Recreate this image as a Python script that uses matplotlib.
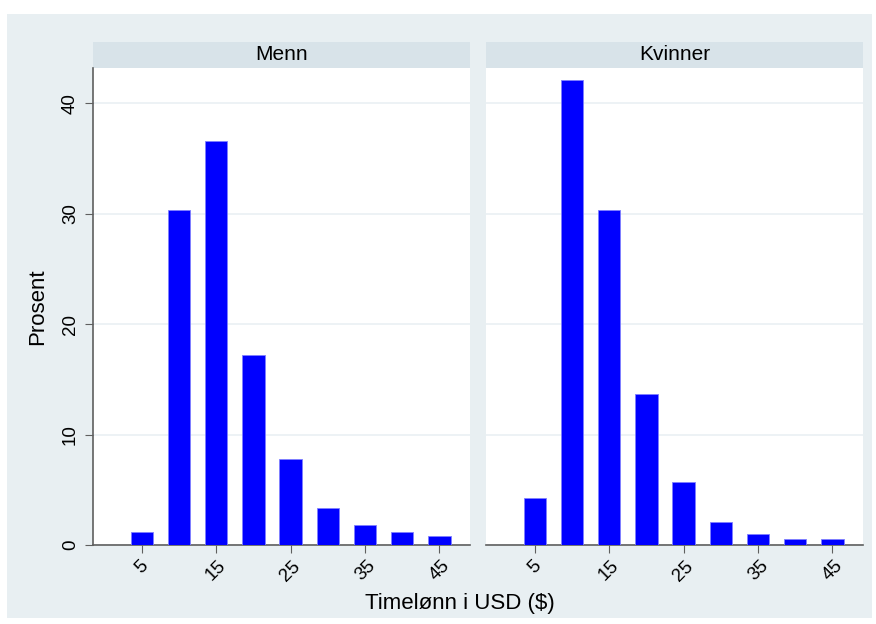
import matplotlib
matplotlib.use("Agg")
import matplotlib.pyplot as plt
from matplotlib.patches import Rectangle

plt.rcParams["font.family"] = ["Liberation Sans", "DejaVu Sans"]

# hourly wage bins (centres) and percent per group
wage_bins = [5, 10, 15, 20, 25, 30, 35, 40, 45]
menn = [1.2, 30.3, 36.6, 17.2, 7.8, 3.35, 1.8, 1.15, 0.85]
kvinner = [4.3, 42.1, 30.3, 13.7, 5.7, 2.1, 1.0, 0.55, 0.55]
panel_titles = ["Menn", "Kvinner"]
x_ticks = [5, 15, 25, 35, 45]
y_ticks = [0, 10, 20, 30, 40]

W, H = 876, 624
bg = "#e8eff2"
strip = "#d8e3e9"
grid_c = "#eaf0f3"
axis_c = "#5f5f5f"

fig = plt.figure(figsize=(W / 100, H / 100), dpi=100)
fig.patch.set_facecolor("white")
fig.patches.append(Rectangle((7 / W, 1 - 618 / H), 865 / W, 604 / H,
                             transform=fig.transFigure, facecolor=bg,
                             edgecolor="none", zorder=-10))

panels = [(93, menn, panel_titles[0], True), (486, kvinner, panel_titles[1], False)]
for x0, vals, title, first in panels:
    ax = fig.add_axes([x0 / W, 1 - 545 / H, 377 / W, (545 - 68) / H])
    ax.set_facecolor("white")
    ax.bar(wage_bins, vals, width=3.0, color="#0000ff", edgecolor="#7f7fff",
           linewidth=0.6, zorder=3)
    ax.set_xlim(-1.55, 49.1)
    ax.set_ylim(0, 43.2)
    ax.set_yticks(y_ticks)
    ax.set_xticks(x_ticks)
    ax.set_xticklabels([str(t) for t in x_ticks], rotation=45, fontsize=13.5)
    ax.grid(axis="y", color=grid_c, linewidth=1.2, zorder=0)
    ax.set_axisbelow(True)
    for s in ["top", "right"]:
        ax.spines[s].set_visible(False)
    ax.spines["bottom"].set_color(axis_c)
    ax.spines["bottom"].set_linewidth(1.2)
    ax.tick_params(axis="x", length=6, color=axis_c, pad=3)
    if first:
        ax.spines["left"].set_color(axis_c)
        ax.spines["left"].set_linewidth(1.2)
        ax.tick_params(axis="y", length=6, color=axis_c, labelsize=13.5, pad=4)
        for lab in ax.get_yticklabels():
            lab.set_rotation(90)
            lab.set_va("center")
        ax.set_ylabel("Prosent", fontsize=16, labelpad=10)
    else:
        ax.spines["left"].set_visible(False)
        ax.tick_params(axis="y", length=0, labelleft=False)
    # header strip
    fig.patches.append(Rectangle((x0 / W, 1 - 68 / H), 377 / W, 26 / H,
                                 transform=fig.transFigure, facecolor=strip,
                                 edgecolor="none", zorder=-5))
    fig.text((x0 + 188.5) / W, 1 - 55 / H, title, ha="center", va="center",
             fontsize=15)

fig.text(460 / W, 1 - 604 / H, "Timelønn i USD ($)", ha="center", va="center",
         fontsize=16)

fig.savefig("out.png", dpi=100)
